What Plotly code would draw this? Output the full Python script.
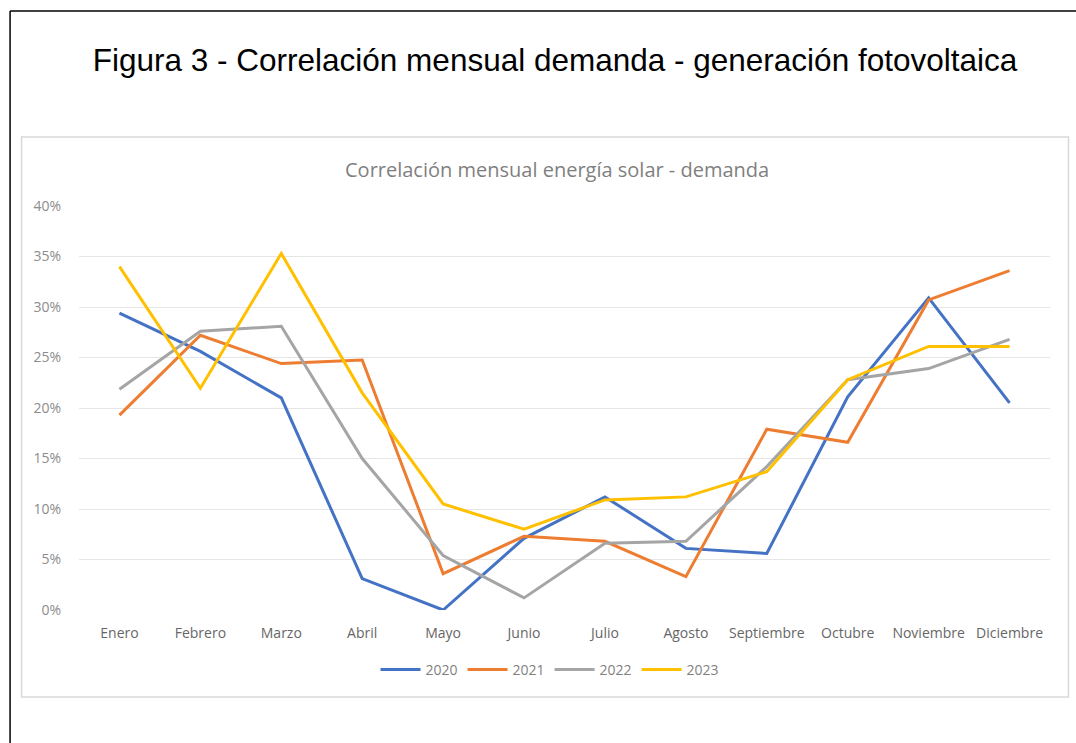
import plotly.graph_objects as go

months = ["Enero", "Febrero", "Marzo", "Abril", "Mayo", "Junio", "Julio",
          "Agosto", "Septiembre", "Octubre", "Noviembre", "Diciembre"]
y2020 = [29.4, 25.6, 21.0, 3.1, 0.0, 7.1, 11.2, 6.1, 5.6, 21.1, 30.9, 20.5]
y2021 = [19.3, 27.2, 24.4, 24.75, 3.6, 7.3, 6.8, 3.3, 17.9, 16.6, 30.7, 33.6]
y2022 = [21.85, 27.6, 28.1, 15.0, 5.4, 1.2, 6.6, 6.8, 14.2, 22.8, 23.9, 26.8]
y2023 = [34.0, 21.95, 35.3, 21.5, 10.5, 8.0, 10.9, 11.2, 13.7, 22.8, 26.1, 26.1]

series = [("2020", y2020, "#4472C4"), ("2021", y2021, "#ED7D31"),
          ("2022", y2022, "#A5A5A5"), ("2023", y2023, "#FFC000")]

W, H = 1076, 743
L, R, T, B = 78.5, 1050.5, 206, 610

def px(x):
    return (x - L) / (R - L)

def py(y):
    return (B - y) / (B - T)

fig = go.Figure()
for name, vals, col in series:
    fig.add_trace(go.Scatter(x=months, y=[v / 100 for v in vals], name=name,
                             mode="lines", line=dict(color=col, width=3)))

fig.update_layout(
    width=W, height=H,
    margin=dict(l=L, r=W - R, t=T, b=H - B),
    paper_bgcolor="white", plot_bgcolor="white",
    title=dict(text="Figura 3 - Correlación mensual demanda - generación fotovoltaica",
               x=555 / W, xref="container", xanchor="center",
               y=1 - 60 / H, yref="container", yanchor="middle",
               font=dict(family="Liberation Sans, Arial", size=31.5, color="black")),
    showlegend=True,
    legend=dict(orientation="h", x=px(550), xanchor="center", y=py(670), yanchor="middle",
                font=dict(family="Open Sans", size=14, color="#7F7F7F"),
                itemwidth=40, traceorder="normal"),
    xaxis=dict(type="category", range=[-0.5, 11.5], showgrid=False, zeroline=False,
               showline=False, ticks="outside", ticklen=10, tickcolor="rgba(0,0,0,0)",
               tickfont=dict(family="Open Sans", size=14, color="#666666")),
    yaxis=dict(range=[0, 0.40], dtick=0.05, tickformat=".0%", showgrid=True,
               gridcolor="#E6E6E6", gridwidth=1, zeroline=False, showline=False,
               ticks="outside", ticklen=14, tickcolor="rgba(0,0,0,0)",
               tickfont=dict(family="Open Sans", size=14, color="#8C8C8C")),
    annotations=[dict(text="Correlación mensual energía solar - demanda",
                      x=px(557), y=py(170), xref="paper", yref="paper",
                      xanchor="center", yanchor="middle", showarrow=False,
                      font=dict(family="Open Sans", size=20, color="#7F7F7F"))],
    shapes=[
        dict(type="line", xref="paper", yref="paper", x0=px(9.5), x1=px(9.5),
             y0=py(11), y1=py(800), line=dict(color="black", width=1.5)),
        dict(type="line", xref="paper", yref="paper", x0=px(9.5), x1=px(1100),
             y0=py(11), y1=py(11), line=dict(color="black", width=1.5)),
        dict(type="rect", xref="paper", yref="paper", x0=px(21), x1=px(1069),
             y0=py(137), y1=py(697), line=dict(color="#D9D9D9", width=1.5),
             layer="below"),
    ],
)

fig.write_html("out.html", config={"displayModeBar": False},
               post_script="document.body.style.margin='0';document.body.style.overflow='hidden';")
